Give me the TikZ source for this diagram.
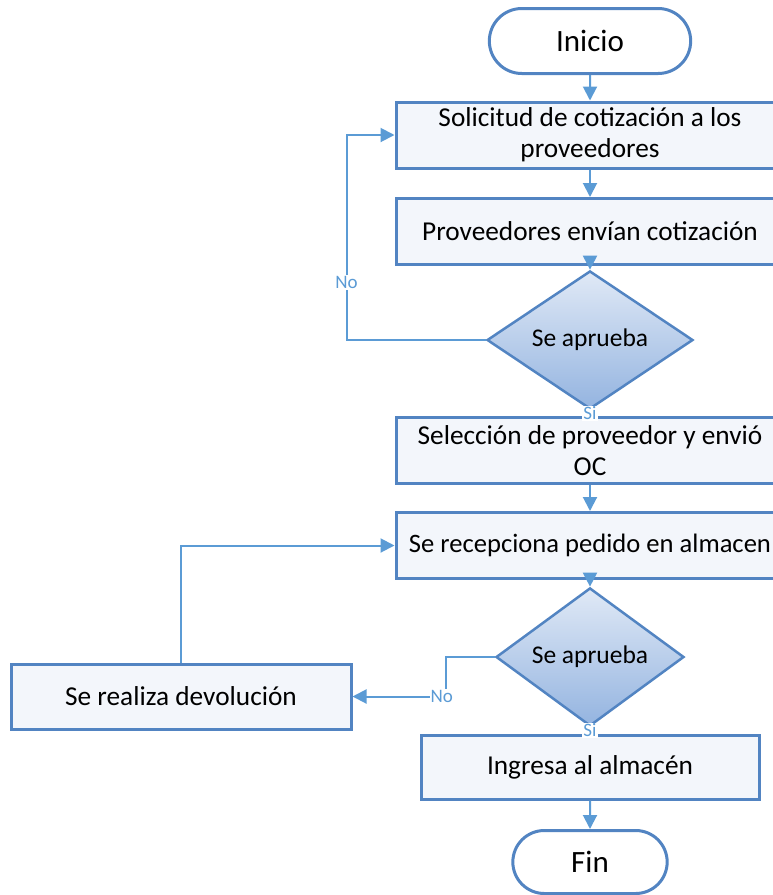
\documentclass[tikz,border=0pt]{standalone}
\usepackage{fontspec}
\setmainfont{Carlito}
\usetikzlibrary{positioning,shapes.geometric,shapes.misc,arrows.meta}
\definecolor{linea}{RGB}{91,155,213}
\definecolor{borde}{RGB}{82,132,194}
\definecolor{fondo}{RGB}{243,246,251}
\definecolor{diaarriba}{RGB}{224,233,246}
\definecolor{diaabajo}{RGB}{148,180,224}

\begin{document}
\begin{tikzpicture}[x=1pt, y=1pt, node distance=95pt,
		proc/.style={rectangle, draw=borde, line width=3pt, fill=fondo, minimum width=388pt, minimum height=66pt, inner sep=0pt, align=center, font=\fontsize{27.3}{31}\selectfont},
		term/.style={rounded rectangle, draw=borde, line width=3pt, fill=white, minimum width=208pt, minimum height=65pt, font=\fontsize{31}{36}\selectfont},
		deci/.style={diamond, draw=borde, line width=2.5pt, top color=diaarriba, bottom color=diaabajo, minimum width=206pt, minimum height=97pt, inner sep=0pt, font=\fontsize{25.5}{30}\selectfont},
		link/.style={draw=linea, line width=2pt, -{Triangle[width=14pt,length=14pt,color=linea]}},
		etiqueta/.style={font=\fontsize{19}{19}\selectfont, text=linea, fill=white, inner sep=1pt}]
			\useasboundingbox (0,0) rectangle (773,-895);
			\clip (0,0) rectangle (773,-895);

			\node[term] (inicio) at (590,-41) {Inicio};
			\node[proc] (sol)[below of = inicio, yshift=1] {Solicitud de cotización a los\\proveedores};
			\node[proc] (prov)[below of = sol, yshift=-1.5] {Proveedores envían cotización};
			\node[deci] (dia1)[below of = prov, yshift=-13.5] {Se aprueba};
			\node[proc] (sel)[below of = dia1, yshift=-15.5] {Selección de proveedor y envió\\OC};
			\node[proc, font=\fontsize{26.6}{31}\selectfont] (rec)[below of = sel] {Se recepciona pedido en almacen};
			\node[deci, minimum width=188pt, minimum height=96pt] (dia2)[below of = rec, yshift=-16.5] {Se aprueba};
			\node[proc, minimum width=338pt, minimum height=64pt] (ing)[below of = dia2, yshift=-15] {Ingresa al almacén};
			\node[term, minimum width=161pt, minimum height=63pt] (fin)[below of = ing] {Fin};

			\node[proc, minimum width=340pt, minimum height=65pt] (devol)[left of = dia2, xshift=-314, yshift=-39.5] {Se realiza devolución};

			\draw[link] (inicio) -- (sol);
			\draw[link] (sol) -- (prov);
			\draw[link] (prov) -- (dia1);
			\draw[link] (sel) -- (rec);
			\draw[link] (rec) -- (dia2);
			\draw[link] (ing) -- (fin);

			\draw[link, -] (dia1) -- node[etiqueta] {Si} (sel);
			\draw[link, -] (dia2) -- node[etiqueta] {Si} (ing);

			\draw[link] (dia1.west) -| node[etiqueta, pos=0.64] {No} ([xshift=-48]sol.west) -- (sol.west);
			\draw[link] (dia2.west) -- ++(-49,0) |- node[etiqueta, pos=0.5, xshift=-4] {No} (devol.east);
			\draw[link] (devol.north) |- (rec.west);
		\end{tikzpicture}
\end{document}
